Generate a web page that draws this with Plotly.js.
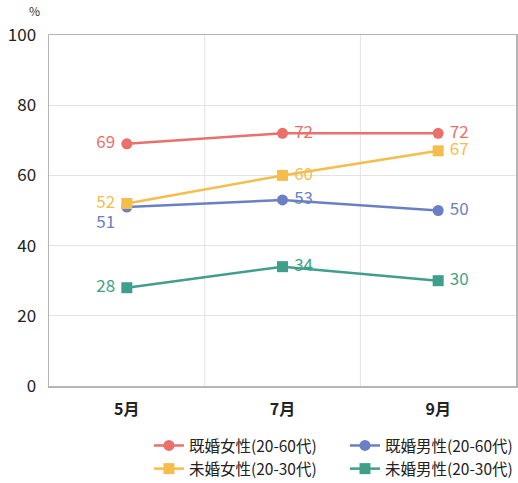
<!DOCTYPE html>
<html>
<head>
<meta charset="utf-8">
<script src="https://cdn.plot.ly/plotly-3.0.1.min.js"></script>
<style>
  html, body { margin: 0; padding: 0; background: #fff; }
  #chart { width: 518px; height: 483px; }
</style>
</head>
<body>
<div id="chart"></div>
<script>
// Survey months and shares (%) per group
const months = ["5月", "7月", "9月"];
const seriesNames = ["既婚女性(20-60代)", "既婚男性(20-60代)", "未婚女性(20-30代)", "未婚男性(20-30代)"];
const marriedWomen = [69, 72, 72];
const marriedMen = [51, 53, 50];
const singleWomen = [52, 60, 67];
const singleMen = [28, 34, 30];
const yTicks = [0, 20, 40, 60, 80, 100];

const FONT = '"Noto Sans CJK JP", "Noto Sans", sans-serif';

function series(name, values, color, symbol, positions, legendId) {
  return {
    type: "scatter",
    mode: "lines+markers+text",
    name: name,
    legend: legendId,
    x: [0, 1, 2],
    y: values,
    text: values.map(v => " " + v + " "),
    textposition: positions,
    textfont: { family: FONT, size: 17, color: color },
    line: { color: color, width: 2.5 },
    marker: { color: color, size: 11, symbol: symbol },
    cliponaxis: false,
    hoverinfo: "skip"
  };
}

// Women in the left legend column, men in the right one
const traces = [
  series(seriesNames[0], marriedWomen, "#e9706b", "circle", ["middle left", "middle right", "middle right"], "legend"),
  series(seriesNames[1], marriedMen, "#6a80c3", "circle", ["bottom left", "middle right", "middle right"], "legend2"),
  series(seriesNames[2], singleWomen, "#f5bd4c", "square", ["middle left", "middle right", "middle right"], "legend"),
  series(seriesNames[3], singleMen, "#3f9f8b", "square", ["middle left", "middle right", "middle right"], "legend2")
];

const legendStyle = {
  orientation: "v",
  yref: "container",
  y: 0.112, yanchor: "top",
  xanchor: "left",
  traceorder: "normal",
  font: { family: FONT, size: 15.5, color: "#222" },
  itemclick: false,
  itemdoubleclick: false,
  bgcolor: "rgba(0,0,0,0)"
};

const layout = {
  width: 518,
  height: 483,
  margin: { l: 49, r: 2, t: 35, b: 97 },
  paper_bgcolor: "#ffffff",
  plot_bgcolor: "#ffffff",
  font: { family: FONT, color: "#222" },
  showlegend: true,
  xaxis: {
    range: [-0.5, 2.5],
    tickmode: "array",
    tickvals: [0, 1, 2],
    ticktext: months,
    tickfont: { family: FONT, size: 16, color: "#222", weight: "bold" },
    showgrid: false,
    zeroline: false,
    showline: true,
    linecolor: "#b5b5b5",
    linewidth: 1.5,
    mirror: true,
    ticks: "",
    ticklabelstandoff: 8,
    fixedrange: true
  },
  yaxis: {
    range: [0, 100],
    tickmode: "array",
    tickvals: yTicks,
    tickfont: { family: FONT, size: 17, color: "#222" },
    showgrid: true,
    gridcolor: "#e3e3e3",
    gridwidth: 1,
    zeroline: false,
    showline: true,
    linecolor: "#b5b5b5",
    linewidth: 1.5,
    mirror: true,
    ticks: "",
    ticklabelstandoff: 8,
    fixedrange: true
  },
  // vertical grid lines between the month categories
  shapes: [0.5, 1.5].map(v => ({
    type: "line", xref: "x", yref: "paper",
    x0: v, x1: v, y0: 0, y1: 1,
    line: { color: "#e3e3e3", width: 1 },
    layer: "below"
  })),
  annotations: [{
    text: "%", xref: "paper", yref: "paper",
    x: -0.03, y: 1.04, xanchor: "center", yanchor: "bottom",
    showarrow: false,
    font: { family: FONT, size: 12, color: "#333" }
  }],
  legend: Object.assign({}, legendStyle, { x: 0.214 }),
  legend2: Object.assign({}, legendStyle, { x: 0.639 })
};

Plotly.newPlot("chart", traces, layout, { displayModeBar: false, staticPlot: true });
</script>
</body>
</html>
